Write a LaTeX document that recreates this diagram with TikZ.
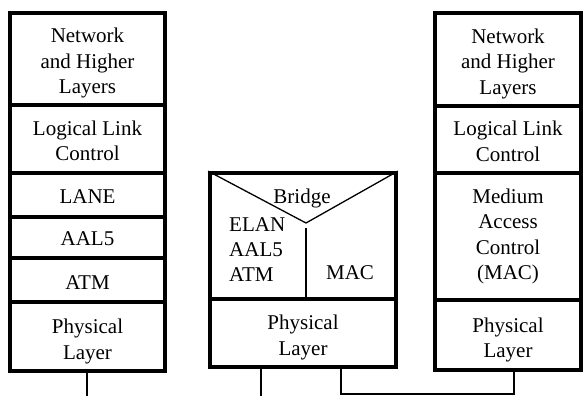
\documentclass[tikz,border=0pt]{standalone}
\usepackage{fontspec}
\setmainfont{Liberation Serif}
\begin{document}
\begin{tikzpicture}[x=1pt,y=-1pt,
  layer/.style={draw, line width=3.8pt, inner sep=0pt, align=center,
    font=\fontsize{21}{25.5}\selectfont},
  lbl/.style={inner sep=0pt, align=center, font=\fontsize{21}{25.5}\selectfont},
  txt/.style={inner sep=0pt, font=\fontsize{21}{25}\selectfont},
  thin/.style={line width=1.3pt}]
\useasboundingbox (0,0) rectangle (585,396);
% left stack
\node[layer, minimum width=155pt, minimum height=92pt] (l1) at (87.5,59) {};
\node[layer, minimum width=155pt, minimum height=68pt] (l2) at (87.5,139) {};
\node[layer, minimum width=155pt, minimum height=44pt] (l3) at (87.5,195) {};
\node[layer, minimum width=155pt, minimum height=41pt] (l4) at (87.5,237.5) {};
\node[layer, minimum width=155pt, minimum height=44pt] (l5) at (87.5,280) {};
\node[layer, minimum width=155pt, minimum height=69pt] (l6) at (87.5,336.5) {};
\node[lbl] (t1) at (87.5,63) {Network\\and Higher\\Layers};
\node[lbl] (t2) at (87.5,141) {Logical Link\\Control};
\node[lbl] (t3) at (87.5,197) {LANE};
\node[lbl] (t4) at (87.5,238.5) {AAL5};
\node[lbl] (t5) at (87.5,283) {ATM};
\node[lbl] (t6) at (87.5,341.5) {Physical\\Layer};
% middle (bridge)
\node[layer, minimum width=186pt, minimum height=126pt] (m1) at (303,236) {};
\node[layer, minimum width=186pt, minimum height=68pt] (m2) at (303,333) {};
\node[lbl] (tm) at (303,337.5) {Physical\\Layer};
\coordinate (apex) at (306,223);
\coordinate (vtop) at (306,228);
\draw[thin] (m1.north west) -- (apex) -- (m1.north east);
\draw[thin] (vtop) -- (vtop |- m1.south);
\node[txt, anchor=base] (br) at (302,203) {Bridge};
\node[txt, anchor=north west, align=left] (ea) at (229,217) {ELAN\\AAL5\\ATM};
\node[txt, anchor=base] (mac) at (350,279) {MAC};
% right stack
\node[layer, minimum width=146pt, minimum height=93pt] (r1) at (508,59.5) {};
\node[layer, minimum width=146pt, minimum height=67pt] (r2) at (508,139.5) {};
\node[layer, minimum width=146pt, minimum height=127pt] (r3) at (508,236.5) {};
\node[layer, minimum width=146pt, minimum height=70pt] (r4) at (508,335) {};
\node[lbl] (s1) at (508,63.5) {Network\\and Higher\\Layers};
\node[lbl] (s2) at (508,141.5) {Logical Link\\Control};
\node[lbl] (s3) at (508,236.5) {Medium\\Access\\Control\\(MAC)};
\node[lbl] (s4) at (508,340) {Physical\\Layer};
% connectors
\coordinate (c1) at (87,396);
\coordinate (c2) at (261,396);
\coordinate (c3a) at (341,367);
\coordinate (c3b) at (514,394);
\draw[thin] (c1 |- l6.south) -- (c1);
\draw[thin] (c2 |- m2.south) -- (c2);
\draw[thin] (c3a) |- (c3b) -- (c3b |- r4.south);
\end{tikzpicture}
\end{document}
